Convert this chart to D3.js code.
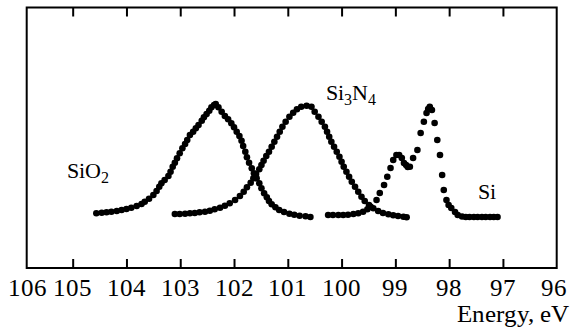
<!DOCTYPE html>
<html>
<head>
<meta charset="utf-8">
<script src="https://cdn.jsdelivr.net/npm/d3@7"></script>
<style>
  @font-face { font-family: "PlotSerif"; src: local("Liberation Serif"), local("LiberationSerif"), local("Times New Roman"); }
  body { margin: 0; }
  svg text { font-family: "PlotSerif", "Liberation Serif", "Times New Roman", serif; }
</style>
</head>
<body>
<script>
// x axis: binding energy, eV (reversed)
const energyTicks = [106, 105, 104, 103, 102, 101, 100, 99, 98, 97, 96];

// spectra as [energy, intensity] (arb. units)
const sio2 = [
  [104.56,54.7],[104.46,55.3],[104.37,55.7],[104.28,56.3],[104.18,57],[104.09,58],[104.00,59],
  [103.91,60.3],[103.81,62],[103.72,64],[103.66,66.3],[103.58,69.3],[103.50,73],[103.44,77],
  [103.39,81.3],[103.35,84.7],[103.29,88],[103.22,92],[103.18,96.3],[103.14,101.3],[103.10,105.3],
  [103.06,109.7],[103.01,114.7],[102.96,119.7],[102.91,124],[102.87,128],[102.82,133],[102.76,136.3],
  [102.71,139.7],[102.66,143],[102.60,147.3],[102.56,150.7],[102.51,154],[102.46,157.3],[102.42,160.7],
  [102.37,163],[102.34,164],[102.29,160.7],[102.23,156.3],[102.17,152],[102.11,148.7],[102.05,144.7],
  [102.00,140.7],[101.95,136.3],[101.90,132],[101.86,127.3],[101.83,122],[101.79,116.3],[101.76,110.7],
  [101.72,105.3],[101.67,99.7],[101.63,94.7],[101.58,89.7],[101.53,84.7],[101.49,79.7],[101.44,74.7],
  [101.39,70.7],[101.35,67],[101.30,63.7],[101.23,60.7],[101.16,58],[101.07,56],[100.97,54.3],
  [100.88,53.3],[100.78,52.3],[100.67,51.7],[100.58,51]
];

const si3n4 = [
  [103.10,54],[103.01,54],[102.91,54.3],[102.82,54.7],[102.73,55],[102.64,55.7],[102.54,56.3],
  [102.45,57.3],[102.36,58.7],[102.26,60.3],[102.17,62.3],[102.08,64.7],[101.98,68],[101.89,72],
  [101.82,76.3],[101.76,80.7],[101.69,85.3],[101.64,89.7],[101.59,94],[101.53,98.7],[101.49,103],
  [101.45,107.3],[101.40,112],[101.35,116.3],[101.30,121.3],[101.25,126.3],[101.20,131.3],[101.15,136.3],
  [101.10,141.3],[101.04,146.3],[100.97,151.3],[100.90,155.3],[100.83,158.7],[100.75,161.3],[100.65,162.3],
  [100.56,161.3],[100.50,156.3],[100.43,151.3],[100.37,146.3],[100.31,141.3],[100.27,136.3],[100.23,131.3],
  [100.19,126.3],[100.14,121.3],[100.09,116.3],[100.04,111.3],[100.00,106.3],[99.96,101.3],[99.91,96.3],
  [99.86,91.3],[99.81,86.3],[99.75,81.3],[99.69,76.3],[99.63,71.3],[99.57,67],[99.49,63],[99.41,59.7],
  [99.32,57],[99.23,55],[99.13,53.7],[99.04,52.7],[98.95,52],[98.85,51.3],[98.79,50.7]
];

const si = [
  [100.25,53],[100.16,53],[100.06,53],[99.97,53],[99.88,53.3],[99.78,54],[99.69,54.7],[99.60,56.3],
  [99.52,58.7],[99.46,61.3],[99.35,68],[99.29,75],[99.21,83],[99.15,91.3],[99.09,100],[99.04,108],
  [98.98,113],[98.93,113],[98.88,110],[98.84,105],[98.80,103],[98.77,101],[98.73,101.3],[98.67,110],
  [98.59,118],[98.53,135],[98.47,146.3],[98.42,155],[98.39,159],[98.36,161.3],[98.32,158],[98.27,145],
  [98.22,128],[98.17,113],[98.13,93],[98.10,78],[98.05,68],[98.01,63],[97.96,60],[97.89,56],[97.84,53],
  [97.76,51.5],[97.69,51],[97.62,51],[97.54,51],[97.47,51],[97.39,51],[97.32,51],[97.24,51],[97.17,51],[97.10,51]
];

const width = 571, height = 328;
const frameLeft = 26.7, frameRight = 556.7, frameTop = 7.5, frameBottom = 268;

const svg = d3.select("body").append("svg")
  .attr("width", width)
  .attr("height", height);

const x = d3.scaleLinear().domain([106, 96]).range([18.9, frameRight]);
const y = d3.scaleLinear().domain([0, 260]).range([frameBottom, frameTop + 0.5]);

// frame
svg.append("rect")
  .attr("x", frameLeft).attr("y", frameTop)
  .attr("width", frameRight - frameLeft).attr("height", frameBottom - frameTop)
  .attr("fill", "none").attr("stroke", "#000").attr("stroke-width", 2);

// inward ticks on bottom and top (labels drawn separately)
const inner = energyTicks.filter(d => d !== 106 && d !== 96);
const tickBottom = svg.append("g")
  .attr("transform", "translate(0," + frameBottom + ")")
  .call(d3.axisBottom(x).tickValues(inner).tickSize(-9).tickFormat(""));
const tickTop = svg.append("g")
  .attr("transform", "translate(0," + frameTop + ")")
  .call(d3.axisTop(x).tickValues(inner).tickSize(-9).tickFormat(""));
[tickBottom, tickTop].forEach(g => {
  g.select(".domain").remove();
  g.selectAll("line").attr("stroke", "#000").attr("stroke-width", 2);
  g.selectAll("text").remove();
});

// tick labels (end ones pulled inside the frame edges)
svg.append("g").selectAll("text")
  .data(energyTicks)
  .enter().append("text")
  .attr("x", d => d === 106 ? frameLeft + 1 : d === 96 ? x(d) - 3 : x(d))
  .attr("y", 296)
  .attr("text-anchor", "middle")
  .attr("font-size", 25)
  .text(d => d);

svg.append("text")
  .attr("x", 569).attr("y", 322)
  .attr("text-anchor", "end")
  .attr("font-size", 25)
  .text("Energy, eV");

// data points
[sio2, si3n4, si].forEach(series => {
  svg.append("g").selectAll("circle")
    .data(series)
    .enter().append("circle")
    .attr("cx", d => x(d[0]))
    .attr("cy", d => y(d[1]))
    .attr("r", 3.3)
    .attr("fill", "#000");
});

// peak labels
function label(e, i, main, parts) {
  const t = svg.append("text")
    .attr("x", x(e)).attr("y", y(i))
    .attr("font-size", 22);
  t.append("tspan").text(main);
  parts.forEach(p => {
    t.append("tspan")
      .attr("dy", p.sub ? 5 : -5)
      .attr("font-size", p.sub ? 16 : 22)
      .text(p.t);
  });
}
label(105.11, 90, "SiO", [{t: "2", sub: true}]);
label(100.29, 168, "Si", [{t: "3", sub: true}, {t: "N", sub: false}, {t: "4", sub: true}]);
label(97.47, 69, "Si", []);
</script>
</body>
</html>
